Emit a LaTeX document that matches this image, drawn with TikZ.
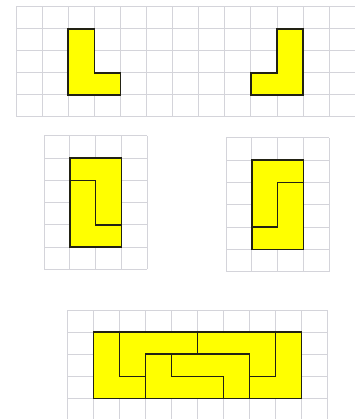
\documentclass[tikz,border=0pt]{standalone}
\begin{document}
\begin{tikzpicture}[x=1pt,y=-1pt]
\definecolor{gridc}{HTML}{D4D4DA}
\definecolor{yel}{HTML}{FFFF00}
\definecolor{outl}{HTML}{222214}
\tikzset{
  gl/.style={draw=gridc, line width=1pt},
  piece/.style={fill=yel, draw=outl, line width=1.6pt, line join=miter},
  innerline/.style={draw=outl, line width=1.6pt, line cap=rect}
}
\fill[white] (0,0) rectangle (355,419);
\clip (0,0) rectangle (355,419);
% top grid
\begin{scope}[shift={(16,7)}, x=26.1pt, y=-22pt]
  \foreach \i in {0,...,12} \draw[gl] (\i,0) -- (\i,5);
  \foreach \j in {0,...,5} \draw[gl] (0,\j) -- (13,\j);
  \draw[piece] (2,1) -- (3,1) -- (3,3) -- (4,3) -- (4,4) -- (2,4) -- cycle;
  \draw[piece] (10,1) -- (11,1) -- (11,4) -- (9,4) -- (9,3) -- (10,3) -- cycle;
\end{scope}
% middle left
\begin{scope}[shift={(44,136)}, x=25.8pt, y=-22.2pt]
  \foreach \i in {0,...,4} \draw[gl] (\i,0) -- (\i,6);
  \foreach \j in {0,...,6} \draw[gl] (0,\j) -- (4,\j);
  \draw[piece] (1,1) rectangle (3,5);
  \draw[innerline] (1,2) -- (2,2) -- (2,4) -- (3,4);
\end{scope}
% middle right
\begin{scope}[shift={(226,138)}, x=25.8pt, y=-22.3pt]
  \foreach \i in {0,...,4} \draw[gl] (\i,0) -- (\i,6);
  \foreach \j in {0,...,6} \draw[gl] (0,\j) -- (4,\j);
  \draw[piece] (1,1) rectangle (3,5);
  \draw[innerline] (3,2) -- (2,2) -- (2,4) -- (1,4);
\end{scope}
% bottom
\begin{scope}[shift={(67.3,310)}, x=26.04pt, y=-22.1pt]
  \foreach \i in {0,...,10} \draw[gl] (\i,0) -- (\i,5);
  \foreach \j in {0,...,4} \draw[gl] (0,\j) -- (10,\j);
  \draw[piece] (1,1) rectangle (9,4);
  \draw[innerline] (2,1) -- (2,3) -- (3,3);
  \draw[innerline] (3,4) -- (3,2) -- (7,2) -- (7,4);
  \draw[innerline] (4,2) -- (4,3) -- (6,3) -- (6,4);
  \draw[innerline] (5,1) -- (5,2);
  \draw[innerline] (7,3) -- (8,3) -- (8,1);
\end{scope}
\end{tikzpicture}
\end{document}
